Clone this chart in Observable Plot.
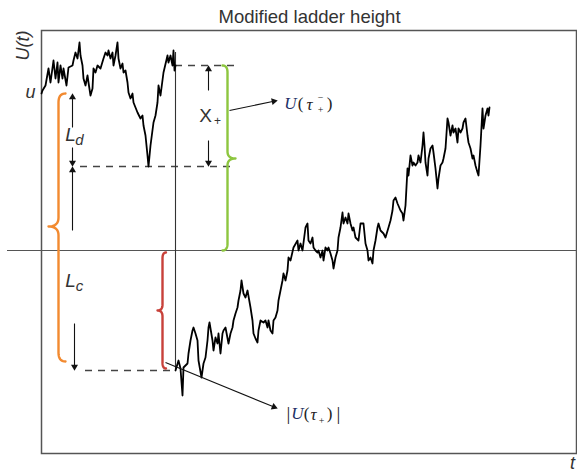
<!DOCTYPE html>
<html><head><meta charset="utf-8">
<script src="https://cdn.jsdelivr.net/npm/d3@7"></script>
<script src="https://cdn.jsdelivr.net/npm/@observablehq/plot@0.6"></script>
<style>body{margin:0;background:#fff}</style>
</head><body><div id="chart"></div>
<script>
// ---- surplus path before the claim (t, U) ----
const beforeT = [0.0,0.1,0.4,0.7,0.9,1.2,1.4,1.6,1.7,1.9,2.1,2.2,2.5,2.7,3.1,3.2,3.4,3.6,3.8,3.9,4.1,4.2,4.4,4.6,4.7,4.9,5.1,5.2,5.4,5.6,5.9,6.2,6.4,6.6,6.7,6.9,7.1,7.2,7.4,7.6,7.7,7.9,8.1,8.2,8.4,8.6,8.7,8.9,9.1,9.2,9.6,9.9,10.1,10.2,10.4,10.6,10.7,10.9,11.2,11.4,11.6,11.7,11.9,12.2,12.6,12.7,12.9,13.1,13.2,13.3,13.4];
const beforeU = [15.7,16.0,16.5,18.2,16.8,19.0,17.2,18.8,16.8,18.5,17.2,18.2,16.5,18.3,18.5,19.0,19.8,19.2,20.8,19.5,18.5,17.2,16.5,17.5,16.8,15.5,16.2,18.2,17.8,18.5,18.2,19.2,19.8,19.5,20.0,19.2,19.8,18.5,19.5,20.8,19.2,18.2,18.7,17.8,18.0,16.8,15.8,15.2,15.7,14.8,13.8,13.2,13.5,12.5,11.5,9.5,8.4,10.5,12.8,13.5,14.8,16.5,15.5,17.8,19.5,18.8,19.5,18.5,20.0,18.0,18.5];
// ---- surplus path after the claim ----
const afterT = [13.4,13.7,13.9,14.1,14.2,14.6,14.7,14.9,15.1,15.2,15.4,15.6,15.7,16.0,16.2,16.4,16.6,16.7,16.8,17.1,17.2,17.4,17.6,17.7,17.9,18.1,18.2,18.4,18.7,18.9,19.1,19.2,19.4,19.6,19.7,19.9,20.0,20.2,20.4,20.6,20.9,21.1,21.2,21.4,21.6,21.7,21.9,22.2,22.4,22.6,22.7,22.9,23.1,23.2,23.4,23.6,23.7,23.9,24.1,24.2,24.4,24.6,24.7,24.9,25.2,25.6,25.7,25.9,26.1,26.4,26.6,26.7,26.9,27.1,27.2,27.4,27.6,27.7,27.9,28.1,28.2,28.4,28.6,28.7,28.9,29.1,29.2,29.4,29.6,29.7,29.9,30.1,30.2,30.4,30.6,30.7,30.9,31.1,31.2,31.4,31.7,31.9,32.2,32.4,32.6,32.7,32.9,33.1,33.2,33.4,33.6,33.7,33.9,34.2,34.4,34.7,34.9,35.1,35.2,35.4,35.6,35.9,36.1,36.2,36.4,36.6,36.7,36.9,37.1,37.2,37.4,37.6,37.7,37.9,38.1,38.2,38.3,38.4,38.6,38.7,38.9,39.1,39.2,39.4,39.6,39.7,39.9,40.1,40.2,40.4,40.6,40.7,40.9,41.1,41.2,41.4,41.6,41.7,41.9,42.1,42.2,42.4,42.6,42.7,42.9,43.1,43.2,43.4,43.6,43.7,43.9,44.1,44.2,44.4,44.6,44.7,44.8];
const afterU = [-12.0,-11.0,-11.8,-14.5,-11.7,-11.3,-10.3,-9.0,-8.0,-7.7,-8.3,-9.0,-11.0,-12.7,-11.3,-10.7,-9.0,-7.7,-7.2,-9.0,-10.0,-8.7,-9.3,-8.3,-10.3,-8.3,-8.0,-7.7,-9.3,-8.3,-7.7,-7.0,-6.3,-5.7,-5.0,-4.0,-3.0,-4.3,-4.7,-4.0,-5.7,-7.0,-8.3,-8.8,-9.2,-8.0,-7.0,-7.2,-7.0,-7.7,-7.0,-8.0,-8.3,-7.0,-6.7,-6.0,-5.0,-4.0,-3.0,-2.3,-3.0,-2.0,-0.7,-1.0,0.3,1.0,0.0,0.7,0.0,2.3,2.7,1.0,0.7,1.3,0.3,0.0,-0.2,0.0,-0.7,0.0,-1.0,0.3,0.0,0.3,-0.3,-1.0,-1.8,-0.7,0.0,1.3,2.3,3.8,2.7,3.3,2.7,3.7,2.7,2.0,2.3,1.3,1.0,2.7,2.7,0.7,0.0,-1.0,-0.7,-1.3,0.0,1.0,2.3,2.7,2.0,1.7,1.3,2.3,3.0,4.0,5.0,5.3,4.7,4.0,3.7,3.0,4.5,8.2,7.5,9.5,8.5,8.8,8.5,8.8,9.5,8.8,10.5,11.8,10.5,8.8,7.5,9.2,10.2,10.5,9.8,8.2,6.2,7.2,8.5,8.8,9.2,10.2,13.2,12.8,11.5,12.5,11.8,12.2,10.8,12.2,11.8,12.2,12.8,13.2,11.5,10.8,10.2,9.2,9.5,8.5,7.8,7.5,10.5,14.2,12.2,13.5,14.2,13.5,14.3];

// ---- key levels ----
const uLevel = 15.7;        // initial surplus u
const tauPlus = 13.4;       // claim time
const preClaim = 18.5;      // U(tau+-)
const dipLevel = 8.4;       // lowest point before claim
const postClaim = -12.0;    // U(tau+)
const titleText = "Modified ladder height";

const before = beforeT.map((t, i) => ({t, U: beforeU[i]}));
const after = afterT.map((t, i) => ({t, U: afterU[i]}));

// dashed guide lines
const dashes = [
  {U: preClaim, t1: tauPlus, t2: 19.3},
  {U: dipLevel, t1: 3.9, t2: 19.3},
  {U: postClaim, t1: 4.4, t2: tauPlus}
];
const zeroLine = [{U: 0, t1: -3.4, t2: 53.6}];
const jump = [{t: tauPlus, U1: postClaim, U2: 19.8}];

// arrows
const arrows = [
  {t1: 3.1, U1: 12.3, t2: 3.1, U2: uLevel},
  {t1: 3.1, U1: 10.3, t2: 3.1, U2: dipLevel},
  {t1: 3.1, U1: 2.0, t2: 3.1, U2: dipLevel},
  {t1: 3.3, U1: -7.3, t2: 3.3, U2: postClaim},
  {t1: 16.7, U1: 16.0, t2: 16.7, U2: preClaim},
  {t1: 16.7, U1: 11.0, t2: 16.7, U2: dipLevel},
  {t1: 18.8, U1: 14.0, t2: 23.6, U2: 15.0},
  {t1: 12.4, U1: -11.2, t2: 23.6, U2: -15.8}
].map(a => {
  const dx = a.t2 - a.t1, dy = a.U2 - a.U1, L = Math.hypot(dx, dy);
  const ux = dx / L, uy = dy / L;
  return {...a, hx: a.t2 - ux * 0.38, hy: a.U2 - uy * 0.38,
          sx: a.t2 - ux * 0.5, sy: a.U2 - uy * 0.5,
          rot: Math.atan2(dx, dy) * 180 / Math.PI};
});

// braces
function brace(xc, y0, y1, ym, wEnd, wTip, dir, r) {
  const pts = [];
  const q = (p0, c, p1, n = 10) => {
    for (let i = 0; i <= n; i++) {
      const s = i / n;
      pts.push({t: (1-s)*(1-s)*p0[0] + 2*(1-s)*s*c[0] + s*s*p1[0],
                U: (1-s)*(1-s)*p0[1] + 2*(1-s)*s*c[1] + s*s*p1[1]});
    }
  };
  q([xc - dir*wEnd, y0], [xc, y0], [xc, y0 - r]);
  q([xc, ym + r], [xc, ym], [xc + dir*wTip, ym]);
  q([xc + dir*wTip, ym], [xc, ym], [xc, ym - r]);
  q([xc, y1 + r], [xc, y1], [xc - dir*wEnd, y1]);
  return pts;
}
const orangeBrace = brace(1.7, uLevel, -11.1, 2.4, 0.7, 1.0, -1, 0.9);
const greenBrace = brace(18.6, preClaim, 0, 9.2, 0.5, 0.8, 1, 0.7);
const redBrace = brace(12.1, -0.2, -11.8, -6.0, 0.35, 0.5, -1, 0.6);

// text glyphs
const sansItalic = [
  {text: "L", t: 2.9, U: 11.6, size: 19},
  {text: "d", t: 3.8, U: 11.0, size: 15},
  {text: "L", t: 2.9, U: -3.0, size: 19},
  {text: "c", t: 3.8, U: -3.6, size: 15},
  {text: "u", t: -1.1, U: 15.8, size: 18},
  {text: "t", t: 53.1, U: -21.3, size: 18}
];
const sansUpright = [
  {text: "X", t: 16.4, U: 13.5, size: 19},
  {text: "+", t: 17.6, U: 12.9, size: 12}
];
const serifItalic = [
  {text: "U", t: 24.9, U: 14.7, size: 17, color: "#1d3166"},
  {text: "τ", t: 26.8, U: 14.6, size: 17, color: "#222"},
  {text: "U", t: 25.6, U: -16.3, size: 17, color: "#1d3166"},
  {text: "τ", t: 27.2, U: -16.4, size: 17, color: "#222"}
];
const serifUpright = [
  {text: "(", t: 25.9, U: 14.7, size: 17},
  {text: "−", t: 27.9, U: 15.3, size: 10},
  {text: "+", t: 27.9, U: 14.1, size: 10},
  {text: ")", t: 28.8, U: 14.7, size: 17},
  {text: "|", t: 24.7, U: -16.3, size: 19},
  {text: "(", t: 26.5, U: -16.3, size: 17},
  {text: "+", t: 28.0, U: -17.0, size: 10},
  {text: ")", t: 28.8, U: -16.3, size: 17},
  {text: "|", t: 29.7, U: -16.3, size: 19}
];

const serif = "Liberation Serif, Times New Roman, serif";
const dark = "#444";
const plot = Plot.plot({
  width: 577, height: 472,
  marginLeft: 41, marginRight: 1, marginTop: 30, marginBottom: 19,
  x: {domain: [0, 53.5], axis: null},
  y: {domain: [-20.3, 22.0], axis: null},
  style: {background: "#fff", overflow: "visible", fontFamily: "Liberation Sans, Arial, sans-serif"},
  marks: [
    Plot.frame({stroke: "#555", strokeWidth: 1.5}),
    Plot.ruleY(zeroLine, {y: "U", x1: "t1", x2: "t2", stroke: "#555", strokeWidth: 1.2}),
    Plot.ruleY(dashes, {y: "U", x1: "t1", x2: "t2", stroke: dark, strokeWidth: 1.3, strokeDasharray: "7,6"}),
    Plot.ruleX(jump, {x: "t", y1: "U1", y2: "U2", stroke: "#333", strokeWidth: 1.1}),
    Plot.line(orangeBrace, {x: "t", y: "U", stroke: "#f28a30", strokeWidth: 2.4}),
    Plot.line(greenBrace, {x: "t", y: "U", stroke: "#8dc63f", strokeWidth: 2.4}),
    Plot.line(redBrace, {x: "t", y: "U", stroke: "#c8413a", strokeWidth: 2.4}),
    Plot.line(before, {x: "t", y: "U", stroke: "#000", strokeWidth: 1.8, strokeLinejoin: "round"}),
    Plot.line(after, {x: "t", y: "U", stroke: "#000", strokeWidth: 1.8, strokeLinejoin: "round"}),
    Plot.link(arrows, {x1: "t1", y1: "U1", x2: "sx", y2: "sy", stroke: "#111", strokeWidth: 1.1}),
    Plot.dot(arrows, {x: "hx", y: "hy", symbol: "triangle", rotate: "rot", r: 2.6, fill: "#111", stroke: "none"}),
    Plot.text([titleText], {x: 26.8, y: 23.3, text: d => d, fontSize: 18.5, fill: "#333"}),
    Plot.text(["U(t)"], {x: -1.8, y: 20.5, text: d => d, rotate: -90, fontSize: 18, fontStyle: "italic", fill: "#333"}),
    Plot.text(sansItalic, {x: "t", y: "U", text: "text", fontSize: "size", fontStyle: "italic", fill: "#333"}),
    Plot.text(sansUpright, {x: "t", y: "U", text: "text", fontSize: "size", fill: "#333"}),
    Plot.text(serifItalic, {x: "t", y: "U", text: "text", fontSize: "size", fontStyle: "italic", fill: "color", fontFamily: serif}),
    Plot.text(serifUpright, {x: "t", y: "U", text: "text", fontSize: "size", fill: "#222", fontFamily: serif})
  ]
});
document.getElementById("chart").appendChild(plot);
</script>
</body></html>
